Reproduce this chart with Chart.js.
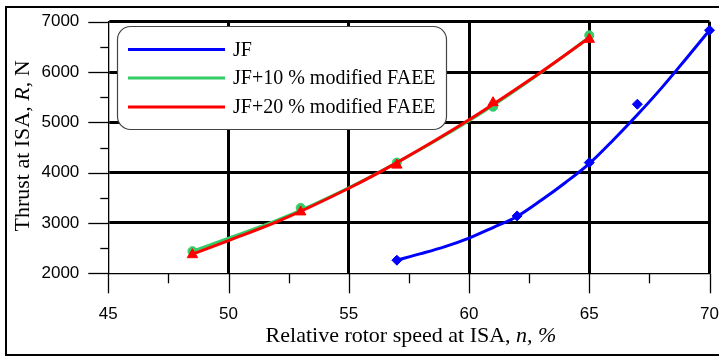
<!DOCTYPE html>
<html>
<head>
<meta charset="utf-8">
<script src="https://cdn.jsdelivr.net/npm/chart.js@4/dist/chart.umd.min.js"></script>
<style>
  html, body { margin: 0; padding: 0; background: #fff; }
  canvas { display: block; }
</style>
</head>
<body>
<canvas id="c" width="719" height="356"></canvas>
<script>
// ---- Data ----
const seriesNames = ["JF", "JF+10 % modified FAEE", "JF+20 % modified FAEE"];

// measured points (markers)
const jfSpeed   = [57, 62, 65, 67, 70];
const jfThrust  = [2260, 3140, 4200, 5360, 6830];
const f10Speed  = [48.5, 53, 57, 61, 65];
const f10Thrust = [2440, 3300, 4200, 5310, 6730];
const f20Speed  = [48.5, 53, 57, 61, 65];
const f20Thrust = [2370, 3220, 4150, 5390, 6650];

// trend curves
const jfTrendSpeed   = [57, 58, 59, 60, 61, 62, 63, 64, 65, 66, 67, 68, 69, 70];
const jfTrendThrust  = [2260, 2390, 2530, 2700, 2910, 3130, 3450, 3800, 4180, 4650, 5150, 5680, 6250, 6830];
const f10TrendSpeed  = [48.5, 50, 52, 55, 57, 60, 63, 65];
const f10TrendThrust = [2440, 2700, 3050, 3700, 4200, 5030, 5990, 6690];
const f20TrendSpeed  = [48.5, 50, 52, 55, 57, 60, 63, 65];
const f20TrendThrust = [2380, 2650, 3020, 3690, 4200, 5050, 6000, 6680];

// axes
const xMin = 45, xMax = 70, xMajor = 5, xMinor = 2.5;
const yMin = 2000, yMax = 7000, yMajor = 1000, yMinor = 500;

const colors = ["#0000FF", "#33CC66", "#FF0000"];

const pts = (xs, ys) => xs.map((x, i) => ({ x: x, y: ys[i] }));

function trendSet(label, xs, ys, color, order) {
  return {
    label: label, data: pts(xs, ys), borderColor: color, backgroundColor: color,
    borderWidth: 3, pointRadius: 0, showLine: true, tension: 0.4,
    cubicInterpolationMode: 'monotone', clip: false, order: order
  };
}
function markerSet(label, xs, ys, color, style, r, order) {
  return {
    label: label, data: pts(xs, ys), borderColor: color, backgroundColor: color,
    showLine: false, pointStyle: style, pointRadius: r, pointBorderWidth: 1,
    clip: false, order: order
  };
}

const datasets = [
  markerSet(seriesNames[2], f20Speed, f20Thrust, colors[2], 'triangle', 6, 1),
  trendSet(seriesNames[2], f20TrendSpeed, f20TrendThrust, colors[2], 2),
  markerSet(seriesNames[1], f10Speed, f10Thrust, colors[1], 'circle', 4.5, 3),
  trendSet(seriesNames[1], f10TrendSpeed, f10TrendThrust, colors[1], 4),
  markerSet(seriesNames[0], jfSpeed, jfThrust, colors[0], 'rectRot', 5, 5),
  trendSet(seriesNames[0], jfTrendSpeed, jfTrendThrust, colors[0], 6)
];

const isMult = (v, m) => Math.abs(v / m - Math.round(v / m)) < 1e-6;

const framePlugin = {
  id: 'frame',
  beforeDraw(chart) {
    const ctx = chart.ctx;
    ctx.save();
    ctx.fillStyle = '#fff';
    ctx.fillRect(0, 0, chart.width, chart.height);
    ctx.restore();
  },
  afterDatasetsDraw(chart) {
    const ctx = chart.ctx;
    const xs = chart.scales.x, ys = chart.scales.y;
    const ca = chart.chartArea;
    ctx.save();
    // tick marks
    ctx.strokeStyle = '#000';
    ctx.lineWidth = 1.3;
    ys.ticks.forEach(t => {
      const y = Math.round(ys.getPixelForValue(t.value)) + 0.5;
      const len = isMult(t.value, yMajor) ? 20 : 8;
      ctx.beginPath(); ctx.moveTo(ca.left - len, y); ctx.lineTo(ca.left, y); ctx.stroke();
    });
    xs.ticks.forEach(t => {
      const x = Math.round(xs.getPixelForValue(t.value)) + 0.5;
      const len = isMult(t.value, xMajor) ? 20 : 10;
      ctx.beginPath(); ctx.moveTo(x, ca.bottom); ctx.lineTo(x, ca.bottom + len); ctx.stroke();
    });

    // legend
    const bx = 117, by = 26, bw = 329, bh = 103, r = 13;
    ctx.beginPath();
    ctx.roundRect(bx + 0.5, by + 0.5, bw, bh, r);
    ctx.fillStyle = '#fff';
    ctx.fill();
    ctx.lineWidth = 1.2;
    ctx.strokeStyle = '#444';
    ctx.stroke();
    const rowY = [49.5, 78, 107];
    ctx.font = '20px "Liberation Serif", "Times New Roman", serif';
    ctx.textBaseline = 'middle';
    ctx.textAlign = 'left';
    seriesNames.forEach((name, i) => {
      ctx.strokeStyle = colors[i];
      ctx.lineWidth = 3;
      ctx.beginPath(); ctx.moveTo(128, rowY[i]); ctx.lineTo(225, rowY[i]); ctx.stroke();
      ctx.fillStyle = '#000';
      ctx.fillText(name, 233, rowY[i] + 1);
    });

    // axis titles with mixed italics
    const measureRuns = (runs, size) => {
      let w = 0;
      runs.forEach(r => { ctx.font = (r.it ? 'italic ' : '') + size + 'px "Liberation Serif", serif'; r.w = ctx.measureText(r.t).width; w += r.w; });
      return w;
    };
    ctx.fillStyle = '#000';
    ctx.textBaseline = 'alphabetic';
    const xRuns = [{ t: 'Relative rotor speed at ISA, ' }, { t: 'n, %', it: true }];
    const xw = measureRuns(xRuns, 22);
    let cx = 411 - xw / 2;
    xRuns.forEach(r => { ctx.font = (r.it ? 'italic ' : '') + '22px "Liberation Serif", serif'; ctx.fillText(r.t, cx, 342); cx += r.w; });

    const yRuns = [{ t: 'Thrust at ISA, ' }, { t: 'R', it: true }, { t: ', N' }];
    const yw = measureRuns(yRuns, 22);
    ctx.save();
    ctx.translate(29, 146);
    ctx.rotate(-Math.PI / 2);
    let cy = -yw / 2;
    yRuns.forEach(r => { ctx.font = (r.it ? 'italic ' : '') + '22px "Liberation Serif", serif'; ctx.fillText(r.t, cy, 0); cy += r.w; });
    ctx.restore();

    // outer frame
    ctx.strokeStyle = '#000';
    ctx.lineWidth = 2;
    ctx.strokeRect(6, 7, 730, 348);
    ctx.restore();
  }
};

const gridW = (v, m, edge) => (isMult(v, m) && v !== edge) ? 3 : 0;
const noPad = s => { s.paddingTop = 0; s.paddingBottom = 0; s.paddingLeft = 0; s.paddingRight = 0; };

new Chart(document.getElementById('c'), {
  type: 'scatter',
  data: { datasets: datasets },
  options: {
    responsive: false,
    animation: false,
    devicePixelRatio: 1,
    layout: { padding: { left: 0, right: 9.5, top: 21.7, bottom: 0 } },
    plugins: { legend: { display: false }, tooltip: { enabled: false } },
    scales: {
      x: {
        type: 'linear', min: xMin, max: xMax,
        afterFit(s) { s.height = 82.7; noPad(s); },
        border: { display: true, color: '#000', width: 1.3 },
        grid: {
          drawTicks: false,
          color: c => gridW(c.tick.value, xMajor, xMin) ? '#000' : 'rgba(0,0,0,0)',
          lineWidth: c => gridW(c.tick.value, xMajor, xMin) || 1
        },
        ticks: {
          stepSize: xMinor, autoSkip: false, maxRotation: 0, padding: 31,
          color: '#000',
          font: { family: '"Liberation Sans", Arial, sans-serif', size: 17 },
          callback: v => isMult(v, xMajor) ? String(v) : ''
        }
      },
      y: {
        type: 'linear', min: yMin, max: yMax,
        afterFit(s) { s.width = 108.3; noPad(s); },
        border: { display: true, color: '#000', width: 1.3 },
        grid: {
          drawTicks: false,
          color: c => gridW(c.tick.value, yMajor, yMin) ? '#000' : 'rgba(0,0,0,0)',
          lineWidth: c => gridW(c.tick.value, yMajor, yMin) || 1
        },
        ticks: {
          stepSize: yMinor, autoSkip: false, padding: 29,
          color: '#000',
          font: { family: '"Liberation Sans", Arial, sans-serif', size: 17 },
          callback: v => isMult(v, yMajor) ? String(v) : ''
        }
      }
    }
  },
  plugins: [framePlugin]
});
</script>
</body>
</html>
